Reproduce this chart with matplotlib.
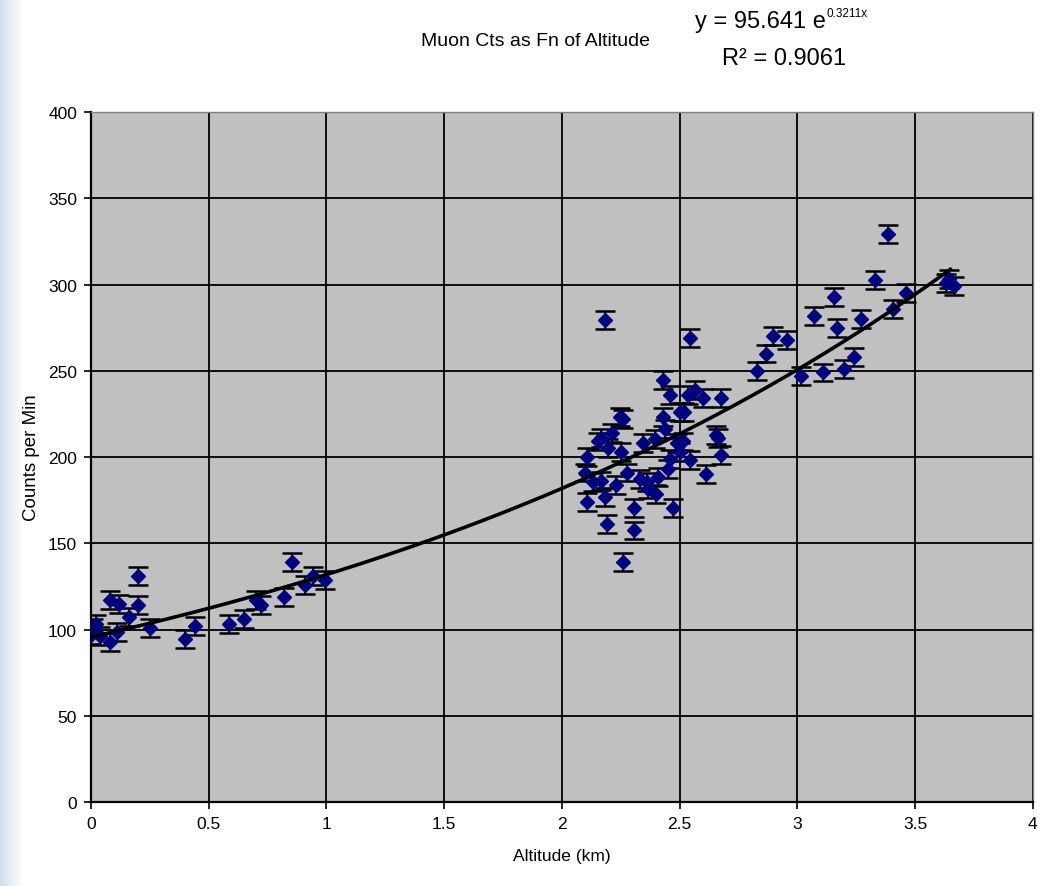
import numpy as np
import matplotlib
matplotlib.use("Agg")
import matplotlib.pyplot as plt

plt.rcParams['font.family'] = ['Liberation Sans', 'DejaVu Sans']

# altitude (km) and counts per minute
alt_low = [0.0, 0.01, 0.02, 0.04, 0.08, 0.08, 0.11, 0.12, 0.16, 0.2, 0.2, 0.25,
           0.40, 0.44, 0.585, 0.65, 0.70, 0.72, 0.82, 0.855, 0.91, 0.945, 0.995]
cts_low = [97, 100.8, 103, 96, 117, 93, 98.6, 115, 107, 131, 114, 100.8,
           94.6, 102, 103, 106, 117, 114, 119, 139, 125.6, 131, 128.5]

alt_mid = [2.183, 2.544, 2.428, 2.459, 2.536, 2.565, 2.60, 2.678, 2.246, 2.26,
           2.428, 2.50, 2.52, 2.211, 2.154, 2.168, 2.197, 2.105, 2.253, 2.345,
           2.395, 2.437, 2.487, 2.515, 2.50, 2.656, 2.663, 2.678, 2.544, 2.459,
           2.452, 2.614, 2.098, 2.133, 2.168, 2.232, 2.275, 2.33, 2.36, 2.409,
           2.40, 2.366, 2.105, 2.183, 2.306, 2.473, 2.19, 2.306, 2.258]
cts_mid = [279.4, 269, 244.6, 236, 236, 239, 234, 234, 223, 222,
           223, 226, 226, 214, 209, 211, 205, 200, 203, 208,
           210.7, 216.5, 208, 209, 203, 212.5, 211, 201, 198, 199,
           193, 190, 191, 185.5, 186, 183.5, 191, 187.5, 185.5, 188.4,
           178.8, 181.7, 174, 176.8, 170.4, 170.4, 161.4, 157.4, 139]

alt_high = [2.827, 2.866, 2.898, 2.958, 3.015, 3.07, 3.108, 3.155, 3.17, 3.20,
            3.24, 3.27, 3.33, 3.384, 3.405, 3.46, 3.63, 3.645, 3.666]
cts_high = [250, 260, 270, 268, 247, 281.6, 249, 293, 275, 250.8,
            257.8, 280, 302.7, 329.5, 285.6, 295, 301, 303, 299]

err = 5.2  # error bar half-height (counts)

# Excel trendline from the chart: y = 95.641 e^(0.3211x)
fit_a = 95.641
fit_b = 0.3211
fit_xmax = 3.65

alt = np.array(alt_low + alt_mid + alt_high)
cts = np.array(cts_low + cts_mid + cts_high)

fig = plt.figure(figsize=(10.4, 8.87), dpi=100)

# light blue strip on the left edge
bg = fig.add_axes([0, 0, 0.022, 1])
grad = np.linspace(0, 1, 60).reshape(1, -1)
bg.imshow(grad, aspect='auto', cmap=matplotlib.colors.LinearSegmentedColormap.from_list(
    'edge', ['#d3deeb', '#ffffff']), extent=[0, 1, 0, 1])
bg.axis('off')

ax = fig.add_axes([0.0875, 0.0947, 0.9055, 0.7779])
ax.set_facecolor('#c0c0c0')

ax.errorbar(alt, cts, yerr=err, fmt='none', ecolor='black',
            elinewidth=1.3, capsize=7, capthick=1.8, zorder=3)
ax.plot(alt, cts, linestyle='none', marker='D', ms=7.2,
        color='#000080', zorder=4)

xx = np.linspace(0, fit_xmax, 200)
ax.plot(xx, fit_a * np.exp(fit_b * xx), color='black', lw=2.6, zorder=5)

ax.set_xlim(0, 4)
ax.set_ylim(0, 400)
ax.set_xticks(np.arange(0, 4.01, 0.5))
ax.set_xticklabels(['0', '0.5', '1', '1.5', '2', '2.5', '3', '3.5', '4'])
ax.set_yticks(np.arange(0, 401, 50))
ax.grid(True, color='black', lw=1.3)
ax.set_axisbelow(True)
ax.tick_params(direction='out', length=5, width=1.2, labelsize=12.5, pad=5)
for s in ['left', 'bottom']:
    ax.spines[s].set_linewidth(1.6)
    ax.spines[s].set_color('black')
for s in ['top', 'right']:
    ax.spines[s].set_linewidth(1.0)
    ax.spines[s].set_color('#808080')

ax.set_xlabel('Altitude (km)', fontsize=12.5, labelpad=12)
ax.set_ylabel('Counts per Min', fontsize=13.5, labelpad=6)

fig.text(0.4045, 0.953, 'Muon Cts as Fn of Altitude', fontsize=14, va='center')
eq = fig.text(0.668, 0.975, 'y = 95.641 e', fontsize=17, va='center')
ax.annotate('0.3211x', xy=(1, 0.62), xycoords=eq, xytext=(1, 0),
            textcoords='offset points', fontsize=8.5, va='bottom', ha='left')
fig.text(0.694, 0.933, 'R\u00b2 = 0.9061', fontsize=17, va='center')

fig.savefig('out.png', dpi=100)
